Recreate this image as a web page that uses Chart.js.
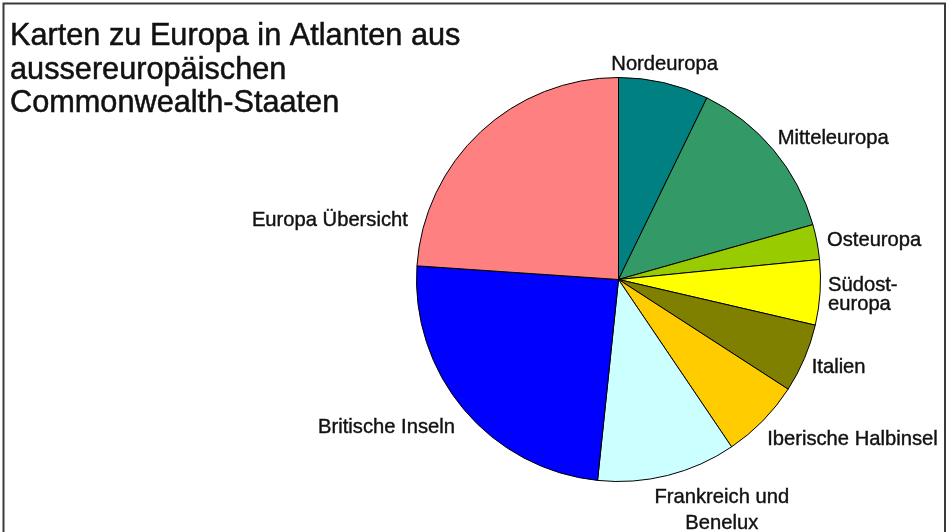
<!DOCTYPE html>
<html>
<head>
<meta charset="utf-8">
<script src="https://cdn.jsdelivr.net/npm/chart.js@4.4.0/dist/chart.umd.min.js"></script>
<style>
    html, body { margin: 0; padding: 0; background: #fff; }
    #wrap { position: relative; width: 949px; height: 532px; }
</style>
</head>
<body>
<div id="wrap"><canvas id="pie-chart-regions"></canvas></div>
<script>
const titleLines = ['Karten zu Europa in Atlanten aus', 'aussereuropäischen', 'Commonwealth-Staaten'];
const regions = [
    ['Nordeuropa'],
    ['Mitteleuropa'],
    ['Osteuropa'],
    ['Südost-', 'europa'],
    ['Italien'],
    ['Iberische Halbinsel'],
    ['Frankreich und', 'Benelux'],
    ['Britische Inseln'],
    ['Europa Übersicht']
];
// Anteil der Karten in Prozent
const shares = [7.2, 13.4, 2.8, 5.2, 5.5, 6.4, 11.1, 24.4, 23.9];
const sliceColors = ['#008080', '#339966', '#99cc00', '#ffff00', '#808000', '#ffcc00', '#ccffff', '#0000ff', '#ff8080'];

const FONT = '"Liberation Sans", Arial, sans-serif';

// Beschriftungen etwas verschoben, wie im Original per Hand platziert
const labelTweaks = [
    { dx: -13, dy: -1 },
    { dx: 11, dy: 0 },
    { dx: 3, dy: 2 },
    { dx: 0, dy: 1, lh: 19, align: 'left' },
    { dx: 2, dy: 2 },
    { dx: 23, dy: 6 },
    { dx: 36, dy: 2, lh: 26 },
    { dx: -19, dy: 6 },
    { dx: -92, dy: 102 }
];

// Text etwas kräftiger zeichnen
function drawText(ctx, text, x, y) {
    ctx.strokeText(text, x, y);
    ctx.fillText(text, x, y);
}

const sliceLabels = {
    id: 'sliceLabels',
    afterDraw(chart) {
        const ctx = chart.ctx;
        const arcs = chart.getDatasetMeta(0).data;
        ctx.save();
        ctx.font = '20.2px ' + FONT;
        ctx.fillStyle = '#111';
        ctx.strokeStyle = '#111';
        ctx.lineWidth = 0.4;
        ctx.textBaseline = 'middle';
        arcs.forEach((arc, i) => {
            const p = arc.getProps(['x', 'y', 'startAngle', 'endAngle', 'outerRadius'], true);
            const mid = (p.startAngle + p.endAngle) / 2;
            const ux = Math.cos(mid), uy = Math.sin(mid);
            const lines = chart.data.labels[i];
            const t = labelTweaks[i];
            const lh = t.lh || 20;
            const w = Math.max(...lines.map(l => ctx.measureText(l).width));
            const h = lines.length * lh;
            const r = p.outerRadius + 8;
            const cx = p.x + r * ux + ux * w / 2 + t.dx;
            const cy = p.y + r * uy + uy * h / 2 + t.dy;
            ctx.textAlign = t.align || 'center';
            const tx = t.align === 'left' ? cx - w / 2 : cx;
            lines.forEach((l, k) => {
                drawText(ctx, l, tx, cy - h / 2 + lh * (k + 0.5));
            });
        });
        ctx.restore();
    }
};

const frameAndTitle = {
    id: 'frameAndTitle',
    beforeDraw(chart) {
        const ctx = chart.ctx;
        ctx.save();
        ctx.fillStyle = '#fff';
        ctx.fillRect(0, 0, chart.width, chart.height);
        ctx.strokeStyle = '#3a3a3a';
        ctx.lineWidth = 2;
        ctx.strokeRect(3.5, 3.5, 941.5, 600);
        ctx.font = '30.7px ' + FONT;
        ctx.fillStyle = '#111';
        ctx.strokeStyle = '#111';
        ctx.lineWidth = 0.5;
        ctx.textAlign = 'left';
        ctx.textBaseline = 'alphabetic';
        titleLines.forEach((l, k) => drawText(ctx, l, 10, 45 + k * 33.5));
        ctx.restore();
    }
};

new Chart(document.getElementById('pie-chart-regions'), {
    type: 'pie',
    data: {
        labels: regions,
        datasets: [{
            data: shares,
            backgroundColor: sliceColors,
            borderColor: '#000',
            borderWidth: 1
        }]
    },
    options: {
        responsive: true,
        maintainAspectRatio: false,
        animation: false,
        layout: { padding: { left: 416, top: 77, right: 128, bottom: 50 } },
        plugins: {
            legend: { display: false },
            tooltip: { enabled: false }
        }
    },
    plugins: [frameAndTitle, sliceLabels]
});
</script>
</body>
</html>
